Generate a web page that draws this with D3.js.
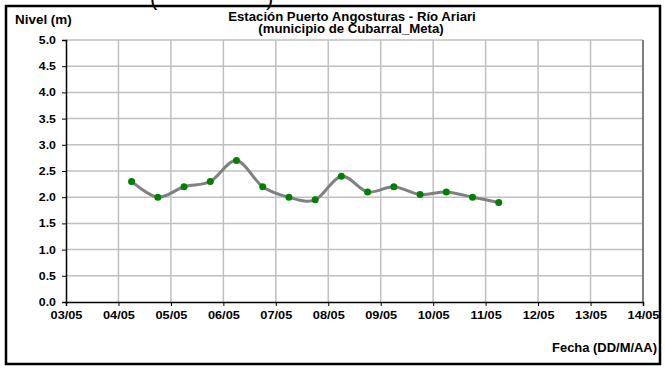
<!DOCTYPE html>
<html>
<head>
<meta charset="utf-8">
<script src="https://cdn.jsdelivr.net/npm/d3@7"></script>
<style>
    body { margin: 0; background: #fff; }
    svg text { font-family: Arial, "Liberation Sans", sans-serif; font-weight: bold; fill: #000; }
</style>
</head>
<body>
<div id="chart"></div>
<script>
// Data: level readings every 12 h (day as fraction since 03/05)
const tickLabels = ['03/05', '04/05', '05/05', '06/05', '07/05', '08/05', '09/05', '10/05', '11/05', '12/05', '13/05', '14/05'];
const dayOffsets = [1.25, 1.75, 2.25, 2.75, 3.25, 3.75, 4.25, 4.75, 5.25, 5.75, 6.25, 6.75, 7.25, 7.75, 8.25];
const levels = [2.3, 2.0, 2.2, 2.3, 2.7, 2.2, 2.0, 1.95, 2.4, 2.1, 2.2, 2.05, 2.1, 2.0, 1.9];
const yTicks = [0, 0.5, 1, 1.5, 2, 2.5, 3, 3.5, 4, 4.5, 5];

const width = 665, height = 368;
const margin = { top: 40, right: 22, bottom: 66, left: 66 };

const svg = d3.select('#chart').append('svg')
    .attr('width', width)
    .attr('height', height);

// The chart text looks horizontally stretched, so text is scaled in x
function label(txt, px, py, size, sx, anchor) {
    return svg.append('text')
        .attr('transform', `translate(${px},${py}) scale(${sx},1)`)
        .attr('text-anchor', anchor || 'start')
        .style('font-size', size + 'px')
        .text(txt);
}

// Outer frame
svg.append('rect')
    .attr('x', 6).attr('y', 6)
    .attr('width', 654).attr('height', 358)
    .attr('fill', 'none')
    .attr('stroke', '#000')
    .attr('stroke-width', 2.5);

// Cut-off brackets from text above the frame
label('(', 150, 5, 22, 1, 'start').style('font-weight', 'normal');
label(')', 266, 5, 22, 1, 'start').style('font-weight', 'normal');

const x = d3.scaleLinear().domain([0, tickLabels.length - 1]).range([margin.left, width - margin.right]);
const y = d3.scaleLinear().domain([0, 5]).range([height - margin.bottom, margin.top]);

// Grid
svg.append('g').selectAll('line')
    .data(yTicks.slice(1))
    .enter().append('line')
    .attr('x1', x(0)).attr('x2', x(tickLabels.length - 1))
    .attr('y1', d => y(d)).attr('y2', d => y(d))
    .attr('stroke', '#c0c0c0').attr('stroke-width', 1.5);

svg.append('g').selectAll('line')
    .data(d3.range(1, tickLabels.length))
    .enter().append('line')
    .attr('x1', d => x(d)).attr('x2', d => x(d))
    .attr('y1', y(0)).attr('y2', y(5))
    .attr('stroke', (d, i) => i === tickLabels.length - 2 ? '#808080' : '#c0c0c0')
    .attr('stroke-width', (d, i) => i === tickLabels.length - 2 ? 2 : 1.5);

// Axes
const yAxis = d3.axisLeft(y).tickValues(yTicks).tickFormat(d3.format('.1f')).tickSize(4).tickPadding(5);
const gy = svg.append('g').attr('transform', `translate(${margin.left},0)`).call(yAxis);
gy.select('.domain').attr('stroke-width', 1.5);
gy.selectAll('text').style('font-size', '11px').attr('transform', 'scale(1.12,1)');

const xAxis = d3.axisBottom(x).tickValues(d3.range(tickLabels.length)).tickFormat(i => tickLabels[i]).tickSize(4).tickPadding(5);
const gx = svg.append('g').attr('transform', `translate(0,${y(0)})`).call(xAxis);
gx.select('.domain').attr('stroke-width', 1.5);
gx.selectAll('text').style('font-size', '11px').attr('transform', 'scale(1.16,1)');

// Series
const points = dayOffsets.map((d, i) => ({ t: d, v: levels[i] }));
const line = d3.line()
    .x(d => x(d.t))
    .y(d => y(d.v))
    .curve(d3.curveCardinal.tension(0));

svg.append('path')
    .datum(points)
    .attr('d', line)
    .attr('fill', 'none')
    .attr('stroke', '#808080')
    .attr('stroke-width', 3);

svg.append('g').selectAll('circle')
    .data(points)
    .enter().append('circle')
    .attr('cx', d => x(d.t))
    .attr('cy', d => y(d.v))
    .attr('r', 3.5)
    .attr('fill', '#008000');

// Titles
label('Estación Puerto Angosturas - Río Ariari', 352, 21, 12, 1.1, 'middle');
label('(municipio de Cubarral_Meta)', 351, 33, 12, 1.1, 'middle');
label('Nivel (m)', 15, 24, 12, 1.12, 'start');
label('Fecha (DD/M/AA)', 657, 352, 12, 1.08, 'end');
</script>
</body>
</html>
